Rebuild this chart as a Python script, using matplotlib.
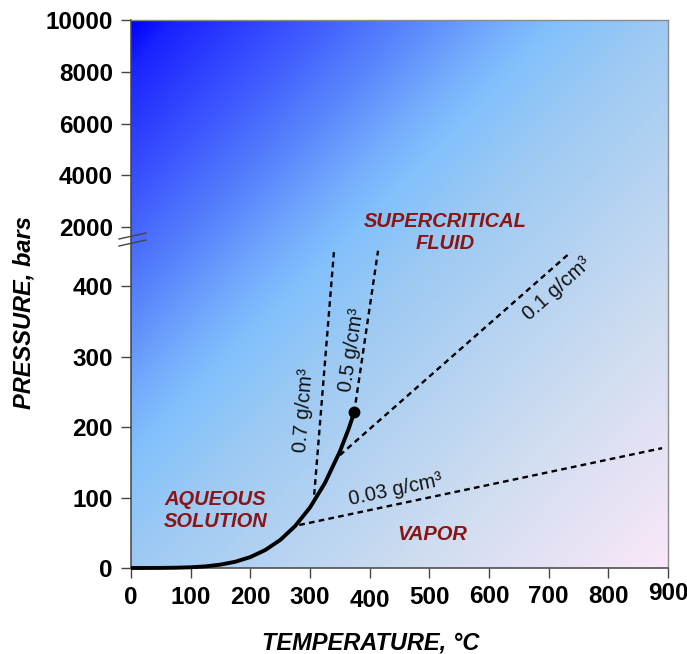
import numpy as np
import matplotlib
matplotlib.use("Agg")
import matplotlib.pyplot as plt
from matplotlib.colors import LinearSegmentedColormap
from matplotlib.lines import Line2D
from matplotlib.transforms import ScaledTranslation

plt.rcParams['font.family'] = ['Liberation Sans', 'DejaVu Sans']

# liquid-vapor boundary of water
sat_temp = [0, 25, 50, 75, 100, 125, 150, 175, 200, 225, 250, 275, 300, 325, 350, 365, 374]
sat_pres = [0.006, 0.03, 0.12, 0.39, 1.0, 2.3, 4.8, 8.9, 15.5, 25.5, 39.7, 59.5, 85.8, 120.6, 165.2, 198.0, 220.6]
crit_temp, crit_pres = 374, 220.6

# isochores: label, [T start, T end], [P start, P end]
iso_labels = ["0.7 g/cm³", "0.5 g/cm³", "0.1 g/cm³", "0.03 g/cm³"]
iso_temp = [[307, 340], [374, 414], [350, 737], [282, 890]]
iso_pres = [[104, 448], [220.6, 450], [160, 448], [61, 170]]

xticks = [0, 100, 200, 300, 400, 500, 600, 700, 800, 900]
yticks = [0, 100, 200, 300, 400, 2000, 4000, 6000, 8000, 10000]

# broken pressure axis: 0-480 linear, then 2000-10000 squeezed
brk_p = [0, 480, 2000, 10000]
brk_u = [0, 480, 483.7, 777.3]

def fwd(p):
    return np.interp(p, brk_p, brk_u)

def inv(u):
    return np.interp(u, brk_u, brk_p)

fig = plt.figure(figsize=(6.87, 6.54), dpi=100)
ax = fig.add_axes([0.1907, 0.1315, 0.7817, 0.8379])
ax.set_yscale('function', functions=(fwd, inv))
ax.set_xlim(0, 900)
ax.set_ylim(0, 10000)

# diagonal background gradient, blue top-left -> pale pink bottom-right
stops = [0, 0.04, 0.15, 0.25, 0.35, 0.40, 0.5, 0.75, 1.0]
cols = [(0, 0, 255), (25, 35, 255), (58, 82, 255), (85, 128, 252), (118, 175, 253),
        (130, 193, 252), (158, 202, 243), (205, 220, 240), (250, 232, 248)]
cmap = LinearSegmentedColormap.from_list(
    "bg", [(s, tuple(c / 255 for c in col)) for s, col in zip(stops, cols)])
u, w = np.meshgrid(np.linspace(0, 1, 300), np.linspace(0, 1, 300))
ax.imshow((u + w) / 2, cmap=cmap, vmin=0, vmax=1, extent=[0, 1, 0, 1], origin='upper',
          transform=ax.transAxes, aspect='auto', zorder=0, interpolation='bilinear')

# isochores
for t, p in zip(iso_temp, iso_pres):
    ax.plot(t, p, color='black', lw=1.7, dashes=(2.4, 1.8), zorder=2)

# boiling curve + critical point
ax.plot(sat_temp, sat_pres, color='black', lw=2.8, zorder=3, clip_on=False,
        solid_capstyle='butt')
ax.plot([crit_temp], [crit_pres], 'o', color='black', ms=7.5, zorder=4)

# isochore labels
iso_kw = dict(ha='center', va='center', fontsize=14.5, color='#111111')
ax.text(290, 223, iso_labels[0], rotation=85.5, **iso_kw)
ax.text(370, 309, iso_labels[1], rotation=81.5, **iso_kw)
ax.text(714, 396, iso_labels[2], rotation=41.7, **iso_kw)
ax.text(444, 111, iso_labels[3], rotation=12, **iso_kw)

# region labels
red = '#8B1414'
reg_kw = dict(ha='center', va='center', fontsize=14.5, fontweight='bold',
              style='italic', color=red, linespacing=1.2)
ax.text(0.585, 0.613, "SUPERCRITICAL\nFLUID", transform=ax.transAxes, **reg_kw)
ax.text(141, 81, "AQUEOUS\nSOLUTION", **reg_kw)
ax.text(505, 48, "VAPOR", **reg_kw)

ax.set_xticks(xticks)
ax.set_xticklabels([str(v) for v in xticks])
ax.set_yticks(yticks)
ax.set_yticklabels([str(v) for v in yticks])
ax.minorticks_off()
ax.tick_params(direction='out', length=7, width=1, color='#444444', labelsize=17.5, pad=6)
for lab in ax.get_xticklabels() + ax.get_yticklabels():
    lab.set_fontweight('bold')

# the x tick labels in the original sit a little unevenly
x_nudge = {400: -3, 600: 1, 700: 1, 800: 1, 900: 4}
for val, tick in zip(xticks, ax.xaxis.get_major_ticks()):
    if val in x_nudge:
        tick.label1.set_transform(tick.label1.get_transform() +
                                  ScaledTranslation(0, x_nudge[val] / 100, fig.dpi_scale_trans))

for side in ['left', 'bottom']:
    ax.spines[side].set_color('#444444')
    ax.spines[side].set_linewidth(1.1)
for side in ['top', 'right']:
    ax.spines[side].set_color('#8a8a8a')
    ax.spines[side].set_linewidth(1.0)

ax.set_xlabel("TEMPERATURE, °C", fontsize=17, fontweight='bold', style='italic')
ax.set_ylabel("PRESSURE, bars", fontsize=17, fontweight='bold', style='italic')
ax.xaxis.set_label_coords(0.447, -0.115)
ax.yaxis.set_label_coords(-0.178, 0.467)

# axis break marks
for dy in [0.0, 7.0]:
    y0 = 1 - (239 + dy) / 654
    y1 = 1 - (233 + dy) / 654
    fig.add_artist(Line2D([119 / 687, 146 / 687], [y0, y1], color='#444444', lw=1.0))

fig.savefig("out.png", dpi=100)
